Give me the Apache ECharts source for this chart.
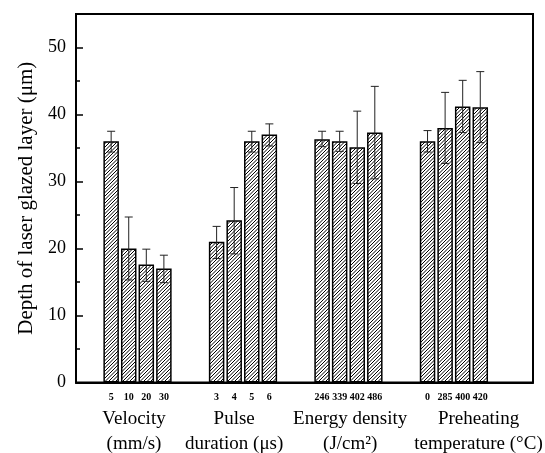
<!DOCTYPE html>
<html>
<head>
<meta charset="utf-8">
<script src="https://cdn.jsdelivr.net/npm/echarts@6/dist/echarts.min.js"></script>
<style>html,body{margin:0;padding:0;background:#fff}#c{width:545px;height:453px}</style>
</head>
<body>
<div id="c"></div>
<script>
// ---- data ----
const groupTitles = ['Velocity\n(mm/s)', 'Pulse\nduration (μs)', 'Energy density\n(J/cm²)', 'Preheating\ntemperature (°C)'];
const tickLabels = [['5', '10', '20', '30'], ['3', '4', '5', '6'], ['246', '339', '402', '486'], ['0', '285', '400', '420']];
const depth = [[36, 20, 17.6, 17], [21, 24.2, 36, 37], [36.3, 36, 35.1, 37.3], [36, 38, 41.2, 41.1]];
const errLow = [[34.4, 15.3, 15.1, 14.9], [18.5, 19.2, 34.4, 35.3], [35.2, 34.5, 29.7, 30.4], [34.4, 32.7, 37.3, 35.8]];
const errHigh = [[37.5, 24.7, 19.9, 19.0], [23.3, 29.1, 37.5, 38.6], [37.5, 37.5, 40.5, 44.2], [37.6, 43.3, 45.1, 46.4]];
const yTicks = [0, 10, 20, 30, 40, 50];

// ---- layout helpers ----
const GROUP_STEP = 6;
const titleShift = [-0.2, -0.5, 0.1, 1.4];
const slotLabel = {};
const barData = [], errData = [];
depth.forEach((g, gi) => g.forEach((v, i) => {
  const x = gi * GROUP_STEP + i;
  slotLabel[x] = tickLabels[gi][i];
  barData.push([x, v]);
  errData.push([x, errLow[gi][i], errHigh[gi][i]]);
}));
const titlePos = groupTitles.map((t, gi) => ({ pos: gi * GROUP_STEP + 1.5 + titleShift[gi], text: t }));

// hatch pattern (period 3.5 px)
const pc = document.createElement('canvas');
pc.width = 7; pc.height = 7;
const g = pc.getContext('2d');
g.fillStyle = '#fff'; g.fillRect(0, 0, 7, 7);
g.strokeStyle = '#000'; g.lineWidth = 1;
g.beginPath();
for (let k = -14; k <= 14; k += 3.5) {
  g.moveTo(k - 1, 8); g.lineTo(k + 8, -1);
}
g.stroke();

const FONT = '"Liberation Serif", "Times New Roman", serif';
const chart = echarts.init(document.getElementById('c'), null, { renderer: 'canvas' });
chart.setOption({
  animation: false,
  grid: { left: 76, right: 12, top: 14, bottom: 70.5, show: true, borderColor: '#000', borderWidth: 2,
          containLabel: false, outerBoundsMode: 'none' },
  xAxis: [{
    type: 'value', min: -2, max: 24, interval: 1,
    axisLine: { onZero: false, lineStyle: { color: '#000', width: 2 } },
    axisTick: { show: false }, splitLine: { show: false },
    axisLabel: {
      margin: 10, fontFamily: FONT, fontSize: 10, fontWeight: 'bold', color: '#000',
      formatter: v => slotLabel[Math.round(v)] !== undefined && Math.abs(v - Math.round(v)) < 1e-6 ? slotLabel[Math.round(v)] : ''
    }
  }, {
    type: 'value', min: -2, max: 24, interval: 0.1, position: 'bottom',
    axisLine: { show: false, onZero: false }, axisTick: { show: false }, splitLine: { show: false },
    axisLabel: {
      margin: 24, fontFamily: FONT, fontSize: 19, lineHeight: 25, color: '#000',
      formatter: v => { const t = titlePos.find(o => Math.abs(o.pos - v) < 0.04); return t ? t.text : ''; }
    }
  }],
  yAxis: [{
    type: 'value', min: 0, max: 55, interval: 10,
    name: 'Depth of laser glazed layer (μm)', nameLocation: 'middle', nameGap: 39,
    nameTextStyle: { fontFamily: FONT, fontSize: 21, color: '#000' },
    axisLine: { onZero: false, lineStyle: { color: '#000', width: 2 } },
    axisTick: { inside: true, length: 7, lineStyle: { color: '#000', width: 1.5 } },
    splitLine: { show: false },
    axisLabel: {
      margin: 10, fontFamily: FONT, fontSize: 18, color: '#000', showMaxLabel: false,
      formatter: v => yTicks.includes(v) ? String(v) : ''
    }
  }, {
    type: 'value', min: 0, max: 55, interval: 5, position: 'left', offset: 0,
    axisLine: { show: false, onZero: false },
    axisTick: { inside: true, length: 4, lineStyle: { color: '#000', width: 1.5 } },
    axisLabel: { show: false }, splitLine: { show: false }
  }],
  series: [{
    type: 'bar', xAxisIndex: 0, yAxisIndex: 0, barWidth: 15.5,
    data: barData,
    itemStyle: { color: { image: pc, repeat: 'repeat' }, borderColor: '#000', borderWidth: 1.5 }
  }, {
    type: 'custom', xAxisIndex: 0, yAxisIndex: 0, z: 5,
    data: errData,
    encode: { x: 0, y: [1, 2] },
    renderItem: (params, api) => {
      const x = api.value(0);
      const top = api.coord([x, api.value(2)]);
      const bot = api.coord([x, api.value(1)]);
      const w = 4;
      const st = { stroke: '#222', lineWidth: 1 };
      return {
        type: 'group', children: [
          { type: 'line', shape: { x1: top[0], y1: top[1], x2: bot[0], y2: bot[1] }, style: st },
          { type: 'line', shape: { x1: top[0] - w, y1: top[1], x2: top[0] + w, y2: top[1] }, style: st },
          { type: 'line', shape: { x1: bot[0] - w, y1: bot[1], x2: bot[0] + w, y2: bot[1] }, style: st }
        ]
      };
    }
  }]
});
</script>
</body>
</html>
